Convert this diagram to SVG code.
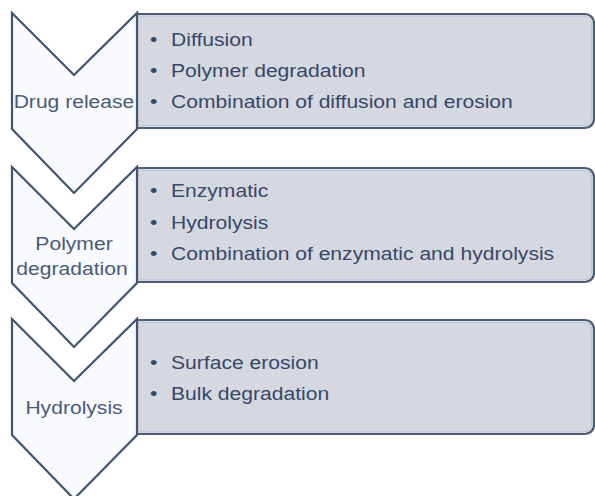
<svg xmlns="http://www.w3.org/2000/svg" width="595" height="496" viewBox="0 0 595 496">
  <style>
    .box { fill: #d6d8df; stroke: #4a5f79; stroke-width: 2.2; }
    .inner { fill: none; stroke: #bccbdd; stroke-width: 1; }
    .chev { fill: #f8fafd; stroke: #3f5572; stroke-width: 2.2; stroke-linejoin: miter; }
    .t { font-family: "Liberation Sans", Arial, sans-serif; font-size: 18.5px; fill: #36476a; }
    .lbl { font-family: "Liberation Sans", Arial, sans-serif; font-size: 18.5px; fill: #4a5a7a; text-anchor: middle; }
  </style>
  <rect width="595" height="496" fill="#ffffff"/>

  <g id="box1">
    <path class="box" d="M137,14 H585 A9,9 0 0 1 594,23 V119 A9,9 0 0 1 585,128 H137 Z"/>
    <path class="inner" d="M139,16.5 H584 A7,7 0 0 1 591.5,23.5 V118.5 A7,7 0 0 1 584,125.5 H139"/>
    <text class="t" transform="translate(150,46) scale(1.14,1)">•</text>
    <text class="t" transform="translate(171,46) scale(1.14,1)">Diffusion</text>
    <text class="t" transform="translate(150,77) scale(1.14,1)">•</text>
    <text class="t" transform="translate(171,77) scale(1.14,1)">Polymer degradation</text>
    <text class="t" transform="translate(150,108) scale(1.14,1)">•</text>
    <text class="t" transform="translate(171,108) scale(1.14,1)">Combination of diffusion and erosion</text>
  </g>

  <g id="box2">
    <path class="box" d="M137,168 H585 A9,9 0 0 1 594,177 V273 A9,9 0 0 1 585,282 H137 Z"/>
    <path class="inner" d="M139,170.5 H584 A7,7 0 0 1 591.5,177.5 V272.5 A7,7 0 0 1 584,279.5 H139"/>
    <text class="t" transform="translate(150,197) scale(1.14,1)">•</text>
    <text class="t" transform="translate(171,197) scale(1.14,1)">Enzymatic</text>
    <text class="t" transform="translate(150,229) scale(1.14,1)">•</text>
    <text class="t" transform="translate(171,229) scale(1.14,1)">Hydrolysis</text>
    <text class="t" transform="translate(150,260) scale(1.14,1)">•</text>
    <text class="t" transform="translate(171,260) scale(1.14,1)">Combination of enzymatic and hydrolysis</text>
  </g>

  <g id="box3">
    <path class="box" d="M137,320 H585 A9,9 0 0 1 594,329 V425 A9,9 0 0 1 585,434 H137 Z"/>
    <path class="inner" d="M139,322.5 H584 A7,7 0 0 1 591.5,329.5 V424.5 A7,7 0 0 1 584,431.5 H139"/>
    <text class="t" transform="translate(150,369) scale(1.14,1)">•</text>
    <text class="t" transform="translate(171,369) scale(1.14,1)">Surface erosion</text>
    <text class="t" transform="translate(150,400) scale(1.14,1)">•</text>
    <text class="t" transform="translate(171,400) scale(1.14,1)">Bulk degradation</text>
  </g>

  <g id="chevron1">
    <path class="chev" d="M12,13 L74,75 L137,13 L137,129 L74,193 L12,129 Z"/>
    <text class="lbl" transform="translate(74,108) scale(1.14,1)">Drug release</text>
  </g>

  <g id="chevron2">
    <path class="chev" d="M12,167 L74,229 L137,167 L137,283 L74,347 L12,283 Z"/>
    <text class="lbl" transform="translate(74,250) scale(1.14,1)">Polymer</text>
    <text class="lbl" transform="translate(72,275) scale(1.14,1)">degradation</text>
  </g>

  <g id="chevron3">
    <path class="chev" d="M12,319 L74,381 L137,319 L137,435 L74,499 L12,435 Z"/>
    <text class="lbl" transform="translate(74,414) scale(1.14,1)">Hydrolysis</text>
  </g>

  <g id="connectors"></g>
</svg>
